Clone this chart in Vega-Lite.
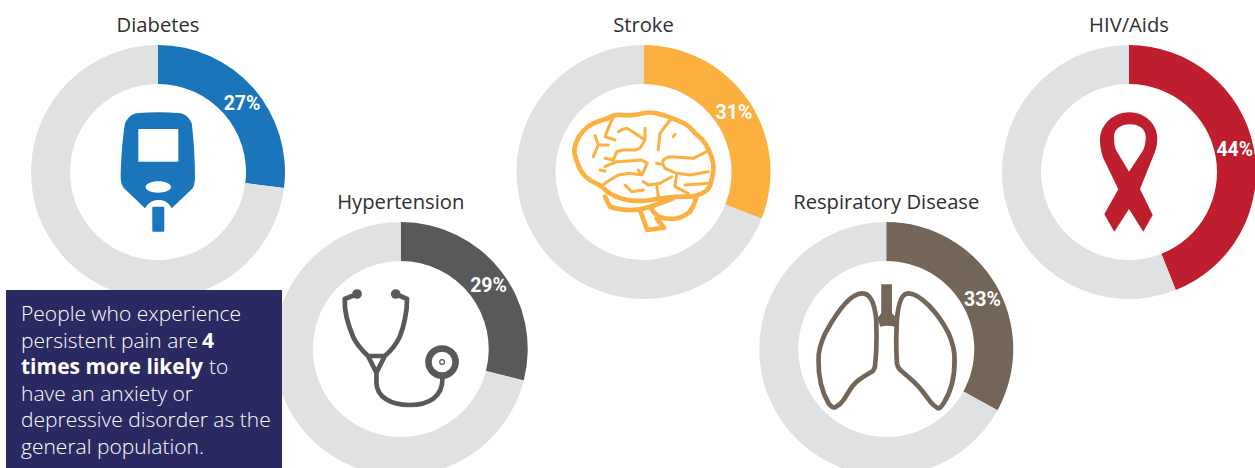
{
"$schema":"https://vega.github.io/schema/vega-lite/v6.json",
"width":1255,"height":468,"padding":0,
"autosize":{"type":"fit","contains":"padding"},
"background":"#ffffff",
"config":{"view":{"stroke":null}},
"datasets":{
"rings":[
{"disease":"Diabetes","tier":"upper","segment":"Diabetes","start":0,"end":27},
{"disease":"Diabetes","tier":"upper","segment":"remainder","start":27,"end":100},
{"disease":"Hypertension","tier":"lower","segment":"Hypertension","start":0,"end":29},
{"disease":"Hypertension","tier":"lower","segment":"remainder","start":29,"end":100},
{"disease":"Stroke","tier":"upper","segment":"Stroke","start":0,"end":31},
{"disease":"Stroke","tier":"upper","segment":"remainder","start":31,"end":100},
{"disease":"Respiratory Disease","tier":"lower","segment":"Respiratory Disease","start":0,"end":33},
{"disease":"Respiratory Disease","tier":"lower","segment":"remainder","start":33,"end":100},
{"disease":"HIV/Aids","tier":"upper","segment":"HIV/Aids","start":0,"end":44},
{"disease":"HIV/Aids","tier":"upper","segment":"remainder","start":44,"end":100}
],
"headlines":[
{"disease":"Diabetes","tier":"upper","label":"27%","label_at":14.2},
{"disease":"Hypertension","tier":"lower","label":"29%","label_at":15.1},
{"disease":"Stroke","tier":"upper","label":"31%","label_at":15.8},
{"disease":"Respiratory Disease","tier":"lower","label":"33%","label_at":17.5},
{"disease":"HIV/Aids","tier":"upper","label":"44%","label_at":21.8}
]
},
"encoding":{
"x":{"field":"disease","type":"nominal","axis":null,"scale":{"type":"point","padding":0,"domain":["Diabetes","Hypertension","Stroke","Respiratory Disease","HIV/Aids"],"range":[158,1129]}}
},
"layer":[
{"data":{"name":"rings"},
"mark":{"type":"arc","innerRadius":88,"outerRadius":127},
"encoding":{
"y":{"field":"tier","type":"nominal","axis":null,"scale":{"type":"point","padding":0,"domain":["upper","lower"],"range":[172,349]}},
"theta":{"field":"start","type":"quantitative","stack":null,"scale":{"domain":[0,100],"range":[0,6.283185]}},
"theta2":{"field":"end"},
"color":{"field":"segment","type":"nominal","legend":null,"scale":{"domain":["Diabetes","Hypertension","Stroke","Respiratory Disease","HIV/Aids","remainder","note panel"],"range":["#1b75bb","#58595b","#fbb040","#736659","#be1e2d","#e0e1e3","#2b2961"]}}
}},
{"data":{"values":[
{"disease":"Diabetes","tier":"upper","segment":"Diabetes","icon":"meter"},
{"disease":"HIV/Aids","tier":"upper","segment":"HIV/Aids","icon":"ribbon"},
{"disease":"Respiratory Disease","tier":"lower","segment":"Respiratory Disease","icon":"trachea"},
{"disease":"Diabetes","tier":"lower","segment":"note panel","icon":"panel"}
]},
"mark":{"type":"point","filled":true,"size":4,"opacity":1,"strokeWidth":0},
"encoding":{
"y":{"field":"tier","type":"nominal","axis":null,"scale":{"type":"point","padding":0,"domain":["upper","lower"],"range":[172,349]}},
"color":{"field":"segment","type":"nominal","legend":null,"scale":{"domain":["Diabetes","Hypertension","Stroke","Respiratory Disease","HIV/Aids","remainder","note panel"],"range":["#1b75bb","#58595b","#fbb040","#736659","#be1e2d","#e0e1e3","#2b2961"]}},
"shape":{"field":"icon","type":"nominal","legend":null,"scale":{"domain":["meter","ribbon","trachea","panel"],"range":[
"M-33 -48.7C-30 -55 -26 -58 -21 -58.7Q0 -61 22 -58.7C27 -58 31 -55 33.7 -48.7C36 -30 37 -10 37 4.7Q37 12 34.7 16.3L13.7 36.3C10 29 5 28 .3 28C-5 28 -9 30 -13 36.3L-34 16.3Q-37.3 12 -37.3 4.7C-37 -10 -36 -30 -33 -48.7ZM-19.7 -43L-19.7 -10.3L20.3 -10.3L20.3 -43ZM-12.4 15A12.7 5.7 0 0 0 13 15A12.7 5.7 0 0 0 -12.4 15ZM-4.7 34.7L5.3 34.7Q6.3 34.7 6.3 35.7L6.3 58.7Q6.3 59.7 5.3 59.7L-4.7 59.7Q-5.7 59.7 -5.7 58.7L-5.7 35.7Q-5.7 34.7 -4.7 34.7Z",
"M.3 -59.7C16 -59.7 28.3 -48 28.3 -33.7C28.3 -28 27.5 -24 26 -20.3L11 17L23.7 43L14.3 59.7L0 37L-14.7 59.7L-24.7 42.3L-10.7 17.3L-25.7 -13.7C-28 -20 -29 -26 -29 -32C-29 -48 -15 -59.7 .3 -59.7ZM1 -47.7C-8 -47.7 -15 -43 -15 -35.3C-15 -30 -14.5 -26 -13 -22L0 -.3L14.3 -22C16 -26 16.7 -30 16.7 -35.3C16.7 -43 10 -47.7 1 -47.7Z",
"M-5 -64.7L5.7 -64.7L5.7 -35.7L10.7 -31L9 -22.3Q1 -24 -6 -22.3L-8.7 -31L-5 -35.7Z",
"M-152 -59L124 -59L124 119L-152 119Z"
]}}
}},
{"data":{"values":[
{"disease":"Hypertension","tier":"lower","segment":"Hypertension","icon":"stethoscope"},
{"disease":"Stroke","tier":"upper","segment":"Stroke","icon":"brain"},
{"disease":"Respiratory Disease","tier":"lower","segment":"Respiratory Disease","icon":"lungs"}
]},
"mark":{"type":"point","filled":false,"size":4,"opacity":1,"strokeWidth":4.7,"strokeJoin":"round","strokeCap":"round"},
"encoding":{
"y":{"field":"tier","type":"nominal","axis":null,"scale":{"type":"point","padding":0,"domain":["upper","lower"],"range":[172,349]}},
"color":{"field":"segment","type":"nominal","legend":null,"scale":{"domain":["Diabetes","Hypertension","Stroke","Respiratory Disease","HIV/Aids","remainder","note panel"],"range":["#1b75bb","#58595b","#fbb040","#736659","#be1e2d","#e0e1e3","#2b2961"]}},
"shape":{"field":"icon","type":"nominal","legend":null,"scale":{"domain":["stethoscope","brain","lungs"],"range":[
"M-43.7 -55L-56 -50C-56.5 -40 -53 -25 -47.7 -12.3C-44 -4 -38 2 -32.7 7L-16 7C-10 2 -5 -4 -1 -12.3C3 -22 6.5 -38 6.3 -50L-5 -55M-32.7 7L-24.3 23.7L-16 7M-24.3 23.7L-24.3 34C-24 48 -10 56 9 56C28 56 42 48 41.7 29.3M26.8 13A14.5 14.5 0 1 1 55.8 13A14.5 14.5 0 1 1 26.8 13ZM28.6 13A12.7 12.7 0 1 1 54 13A12.7 12.7 0 1 1 28.6 13ZM-46.2 -55A2.5 2.5 0 1 1 -41.2 -55A2.5 2.5 0 1 1 -46.2 -55ZM-7.5 -55A2.5 2.5 0 1 1 -2.5 -55A2.5 2.5 0 1 1 -7.5 -55ZM40.7 13A.6 .6 0 1 1 41.9 13A.6 .6 0 1 1 40.7 13Z",
"M-47.6 11.3Q-53.5 9 -58.1 4.3Q-62.8 -.3 -65.6 -7.8Q-68.5 -15.3 -69 -19.5Q-69.5 -23.7 -67.3 -29.5Q-65.2 -35.3 -61 -40.3Q-56.8 -45.3 -51 -48.1Q-45.2 -51 -39.3 -52.6Q-33.5 -54.3 -31 -56Q-28.5 -57.7 -21.8 -57Q-15.2 -56.3 -10.2 -57Q-5.2 -57.7 .6 -59Q6.5 -60.3 14.8 -58.3Q23.2 -56.3 34 -51.6Q44.8 -47 48.1 -42.8Q51.5 -38.7 55.6 -35.3Q59.8 -32 63.1 -26.1Q66.5 -20.3 68.5 -13.6Q70.5 -7 69.8 -1.1Q69.2 4.7 67.3 11.3Q65.5 18 58.5 21.3Q51.5 24.7 41.5 24.7Q31.5 24.7 24 25.5Q16.5 26.3 6.5 28Q-3.5 29.7 -13.5 28.3Q-23.5 27 -30.1 23.3Q-36.8 19.7 -39.3 16.7Q-41.8 13.7 -47.6 11.3ZM-38.5 24.7L-33.5 34.7Q-24 38 -13.5 38Q-3 38 6.5 34.7Q18 31 29.8 26.3M53.2 24.7Q51 33 46.5 39.7Q39 46 29.8 47Q22 47 14.8 44.7Q10 41 6.5 34.7M-3.5 38L3.8 58L20.5 55.7L13.2 46.3",
"M-10 -29C-11 -40 -14 -56 -24.3 -55.7C-36 -55.5 -50 -36 -61 -15.7C-66 -5 -68 5 -67.7 11C-68 25 -66 40 -57.7 54.3C-55 58 -53 59 -51 58.3C-47 56 -44 53 -42.7 51C-38 44 -35 38 -32.7 36C-29 31 -20 26 -14.3 22.7C-12 21 -11 18 -11 14.3C-10 5 -9.7 -5 -9.7 -12.3L-10 -29M10.7 -29C11.5 -40 14 -56 22.3 -55.7C34 -55.5 52 -36 62.3 -15.7C67 -5 68.5 5 68.3 11C68.5 25 66.5 40 57.3 54.3C55 58 53 60 51.7 59.3C48 57 46 55 44 52.7C39 46 35 40 30.7 36C27 32 20 26 14 21C12 19 11 17 10.7 14.3C10 5 10 -5 10 -12.3L10.7 -29"
]}}
}},
{"data":{"values":[
{"disease":"Stroke","tier":"upper","segment":"Stroke","icon":"brain folds"}
]},
"mark":{"type":"point","filled":false,"size":4,"opacity":1,"strokeWidth":3,"strokeJoin":"round","strokeCap":"round"},
"encoding":{
"y":{"field":"tier","type":"nominal","axis":null,"scale":{"type":"point","padding":0,"domain":["upper","lower"],"range":[172,349]}},
"color":{"field":"segment","type":"nominal","legend":null,"scale":{"domain":["Diabetes","Hypertension","Stroke","Respiratory Disease","HIV/Aids","remainder","note panel"],"range":["#1b75bb","#58595b","#fbb040","#736659","#be1e2d","#e0e1e3","#2b2961"]}},
"shape":{"field":"icon","type":"nominal","legend":null,"scale":{"domain":["brain folds"],"range":[
"M-30.2 -55.3Q-33 -49 -35.2 -43.7L-38.5 -35.3L-28.5 -32M-48.5 -36.3L-45.2 -27L-50.2 -15.3M-45.2 -27L-35.2 -27M-25.2 -40.3Q-21 -43 -16.8 -43.7Q-10 -40 -3.5 -35.3L1.5 -32L-3.5 -23.7L-8.5 -22L-20.2 -22L-26.8 -20.3L-30.2 -12L-38.5 -13.7M1.5 -43.7L1.5 -32M26.5 -52L16.5 -38.7L14.8 -22M31.5 -37.7L29.8 -35.3M-43.5 -2L-38.5 -1M-38.5 -5.3L-26.8 -10.3L-1.8 -12L3.8 -8.7L-1.8 3L-13.5 1.3M-1.8 3L-5.2 -2M-41.8 13.7L-33.5 8L-25.2 3L-13.5 1.3M21.5 -3.7Q18 -9 19.8 -12Q23 -15 28.2 -15.3L49.8 -13.7L63.2 -20.3M13.2 -8.7L16.5 -8M21.5 -3.7L33.2 1.3L31.5 14.7L44.8 21.3M33.2 1.3L46.5 3L64.8 -.3M-.2 9.7L4.8 13L16.5 11.3L28.2 4.7M13.2 13L14.8 24.7M-18.5 13L-11.8 19.7L-.2 18M41.5 13L64.8 11.3"
]}}
}},
{"data":{"name":"rings"},
"transform":[{"filter":"datum.segment !== 'remainder'"}],
"mark":{"type":"text","dy":-146,"font":"Open Sans","fontSize":20.2,"color":"#2e2e30"},
"encoding":{
"y":{"field":"tier","type":"nominal","axis":null,"scale":{"type":"point","padding":0,"domain":["upper","lower"],"range":[172,349]}},
"text":{"field":"disease"}
}},
{"data":{"name":"headlines"},
"mark":{"type":"text","radius":108,"font":"Roboto","fontWeight":"bold","fontSize":19.5,"color":"#ffffff"},
"encoding":{
"y":{"field":"tier","type":"nominal","axis":null,"scale":{"type":"point","padding":0,"domain":["upper","lower"],"range":[172,349]}},
"theta":{"field":"label_at","type":"quantitative","scale":{"domain":[0,100],"range":[0,6.283185]}},
"text":{"field":"label"}
}},
{"data":{"values":[
{"line":1,"words":"People who experience"},
{"line":2,"words":"persistent pain are"},
{"line":4,"words":"have an anxiety or"},
{"line":5,"words":"depressive disorder as the"},
{"line":6,"words":"general population."}
]},
"mark":{"type":"text","align":"left","baseline":"alphabetic","dx":-137,"font":"Open Sans","fontWeight":300,"fontSize":21,"color":"#ffffff"},
"encoding":{
"x":{"datum":"Diabetes","type":"nominal"},
"y":{"field":"line","type":"ordinal","axis":null,"scale":{"type":"point","padding":0,"domain":[1,2,3,4,5,6],"range":[321,454]}},
"text":{"field":"words"}
}},
{"data":{"values":[{"line":3,"words":"times more likely"}]},
"mark":{"type":"text","align":"left","baseline":"alphabetic","dx":-137,"font":"Open Sans","fontWeight":"bold","fontSize":21,"color":"#ffffff"},
"encoding":{
"x":{"datum":"Diabetes","type":"nominal"},
"y":{"field":"line","type":"ordinal","axis":null,"scale":{"type":"point","padding":0,"domain":[1,2,3,4,5,6],"range":[321,454]}},
"text":{"field":"words"}
}},
{"data":{"values":[{"line":2,"words":"4"}]},
"mark":{"type":"text","align":"left","baseline":"alphabetic","dx":44,"font":"Open Sans","fontWeight":"bold","fontSize":21,"color":"#ffffff"},
"encoding":{
"x":{"datum":"Diabetes","type":"nominal"},
"y":{"field":"line","type":"ordinal","axis":null,"scale":{"type":"point","padding":0,"domain":[1,2,3,4,5,6],"range":[321,454]}},
"text":{"field":"words"}
}},
{"data":{"values":[{"line":3,"words":"to"}]},
"mark":{"type":"text","align":"left","baseline":"alphabetic","dx":51,"font":"Open Sans","fontWeight":300,"fontSize":21,"color":"#ffffff"},
"encoding":{
"x":{"datum":"Diabetes","type":"nominal"},
"y":{"field":"line","type":"ordinal","axis":null,"scale":{"type":"point","padding":0,"domain":[1,2,3,4,5,6],"range":[321,454]}},
"text":{"field":"words"}
}}
],
"resolve":{"scale":{"y":"independent","shape":"independent"}}
}
